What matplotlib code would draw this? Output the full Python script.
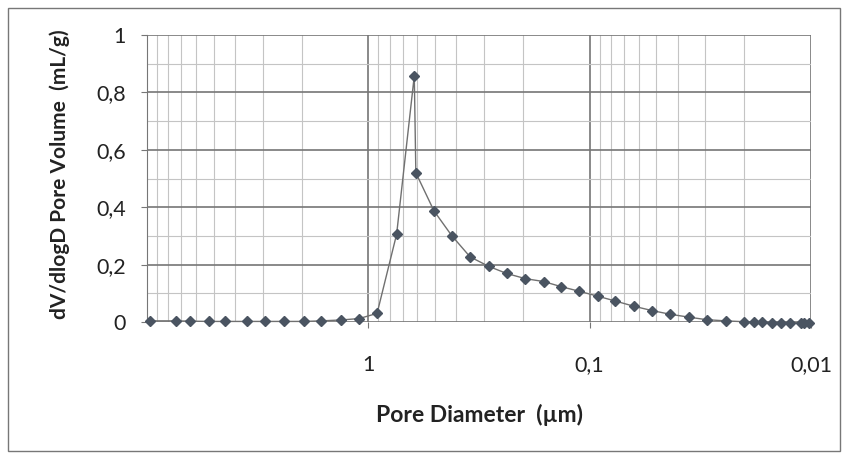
import numpy as np
import matplotlib
matplotlib.use("Agg")
import matplotlib.pyplot as plt
from matplotlib.ticker import FixedLocator, FuncFormatter, MultipleLocator, LogLocator, NullFormatter
from matplotlib.patches import Rectangle

# pore diameter (um) and dV/dlogD (mL/g)
diameter = [9.72, 7.37, 6.41, 5.26, 4.42, 3.55, 2.92, 2.40, 1.95, 1.63, 1.33, 1.10, 0.913,
            0.745, 0.62, 0.61, 0.505, 0.420, 0.347, 0.286, 0.237, 0.195,
            0.1615, 0.1343, 0.1113, 0.0920, 0.0765, 0.0632, 0.0524, 0.0433, 0.0357,
            0.0296, 0.0243, 0.0201, 0.0181, 0.0166, 0.0150, 0.0136, 0.0124, 0.0111,
            0.0108, 0.0102]
volume = [0.004, 0.004, 0.003, 0.002, 0.002, 0.002, 0.002, 0.002, 0.002, 0.004, 0.007, 0.012, 0.030,
          0.306, 0.858, 0.520, 0.387, 0.301, 0.227, 0.194, 0.169, 0.151,
          0.141, 0.123, 0.107, 0.090, 0.073, 0.055, 0.040, 0.027, 0.017,
          0.008, 0.004, 0.001, 0.0, -0.001, -0.002, -0.002, -0.002, -0.003,
          -0.003, -0.003]

x_ticks = [1, 0.1, 0.01]
y_ticks = [0, 0.2, 0.4, 0.6, 0.8, 1.0]

plt.rcParams['font.family'] = ['Lato', 'DejaVu Sans']

fig = plt.figure(figsize=(8.5, 4.57), dpi=100)
ax = fig.add_axes([147/850, 1-322/457, (811-147)/850, (322-35)/457])

ax.plot(diameter, volume, color="#707070", lw=1.0, marker="D", ms=5.5,
        mfc="#4a5461", mec="#4a5461", clip_on=False, zorder=3)

ax.set_xscale("log")
ax.set_xlim(10, 0.01)
ax.set_ylim(0, 1)

def comma(v, pos=None):
    return ("%g" % v).replace(".", ",")

ax.xaxis.set_major_locator(FixedLocator(x_ticks))
ax.xaxis.set_major_formatter(FuncFormatter(comma))
ax.xaxis.set_minor_locator(LogLocator(base=10, subs=np.arange(2, 10)))
ax.xaxis.set_minor_formatter(NullFormatter())
ax.yaxis.set_major_locator(FixedLocator(y_ticks))
ax.yaxis.set_major_formatter(FuncFormatter(comma))
ax.yaxis.set_minor_locator(MultipleLocator(0.1))

ax.grid(which="major", color="#767676", lw=1.2)
ax.grid(which="minor", color="#c4c4c4", lw=0.8)
ax.set_axisbelow(True)

for s in ["top", "right", "bottom"]:
    ax.spines[s].set_visible(False)
ax.spines["left"].set_color("#767676")

ax.tick_params(which="major", length=4, color="#767676", labelsize=15.5, labelcolor="#222222")
ax.tick_params(axis="y", which="major", pad=11)
ax.tick_params(axis="x", which="major", pad=20)
ax.tick_params(which="minor", length=0)

ax.set_ylabel("dV/dlogD Pore Volume  (mL/g)", fontsize=15, fontweight="bold", color="#222222")
ax.set_xlabel("Pore Diameter  (µm)", fontsize=16.5, fontweight="bold", color="#222222")
ax.yaxis.set_label_coords(-0.131, 0.516)
ax.xaxis.set_label_coords(0.5, -0.324)
ax.yaxis.label.set_va("center")
ax.xaxis.label.set_va("center")

fig.patches.append(Rectangle((8/850, 6/457), 832/850, 443/457, transform=fig.transFigure,
                             fill=False, edgecolor="#777777", lw=1.0))

fig.savefig("out.png", dpi=100)
